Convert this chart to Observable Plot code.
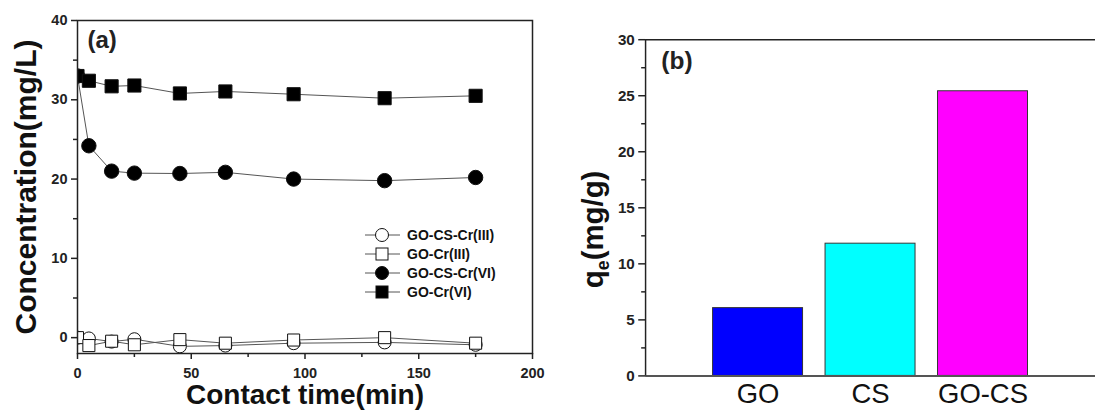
<!DOCTYPE html>
<html><head><meta charset="utf-8">
<script src="https://cdn.jsdelivr.net/npm/d3@7"></script>
<script src="https://cdn.jsdelivr.net/npm/@observablehq/plot@0.6"></script>
<style>
html,body{margin:0;padding:0;background:#fff;overflow:hidden;width:1095px;height:412px;}
#wrap{position:relative;width:1095px;height:412px;overflow:hidden;background:#fff;}
#a{position:absolute;left:0;top:0;}
#b{position:absolute;left:550px;top:0;}
#legend{position:absolute;left:360px;top:224px;}
</style></head><body>
<div id="wrap"><div id="a"></div><div id="b"></div><div id="legend"></div></div>
<script>
// ---- Panel (a) data ----
const times = [0, 5, 15, 25, 45, 65, 95, 135, 175];
const goCsCr3 = [0, -0.1, -0.5, -0.2, -1.1, -1.0, -0.7, -0.6, -0.9];
const goCr3   = [0, -1.0, -0.45, -0.9, -0.25, -0.7, -0.3, 0.0, -0.7];
const goCsCr6 = [33, 24.2, 21.0, 20.75, 20.7, 20.85, 20.0, 19.8, 20.2];
const goCr6   = [33, 32.4, 31.7, 31.8, 30.8, 31.05, 30.7, 30.2, 30.5];
const seriesNames = ["GO-CS-Cr(III)", "GO-Cr(III)", "GO-CS-Cr(VI)", "GO-Cr(VI)"];
const seriesSymbols = ["circle", "square", "circle", "square"];
const seriesFills = ["white", "white", "black", "black"];
const xTicks = [0, 50, 100, 150, 200];
const xMinor = [25, 75, 125, 175];
const yTicks = [0, 10, 20, 30, 40];
const yMinor = [5, 15, 25, 35];

// ---- Panel (b) data ----
const materials = ["GO", "CS", "GO-CS"];
const qe = [6.05, 11.8, 25.4];
const barColors = ["#0000ff", "#00ffff", "#ff00ff"];
const qTicks = [0, 5, 10, 15, 20, 25, 30];
const qMinor = [2.5, 7.5, 12.5, 17.5, 22.5, 27.5];

const FONT = '"Liberation Sans", Arial, Helvetica, sans-serif';
const INK = "#222";

const allSeries = [goCsCr3, goCr3, goCsCr6, goCr6];
const rows = [];
allSeries.forEach((vals, k) => vals.forEach((v, i) => rows.push({t: times[i], c: v, s: seriesNames[k], k})));
const dotR = {circle: [6.5, 7.2], square: [6.8, 7.4]};

const dotMarks = seriesNames.map((name, k) =>
  Plot.dot(rows.filter(d => d.k === k), {
    x: "t", y: "c", symbol: seriesSymbols[k],
    r: dotR[seriesSymbols[k]][seriesFills[k] === "black" ? 1 : 0],
    fill: seriesFills[k], stroke: "#111", strokeWidth: 1, clip: true
  })
);

const plotA = Plot.plot({
  width: 550, height: 412,
  marginLeft: 77, marginRight: 18, marginTop: 20, marginBottom: 59,
  style: {fontFamily: FONT, background: "white", overflow: "visible"},
  x: {domain: [0, 200]},
  y: {domain: [-2, 40]},
  marks: [
    Plot.axisX({ticks: xTicks, tickSize: 6, tickPadding: 8, fontSize: 14.5, fontWeight: "bold", label: null, color: INK, strokeWidth: 1.5}),
    Plot.axisX({ticks: xMinor, tickSize: 4, tickFormat: () => "", label: null, color: INK, strokeWidth: 1.5}),
    Plot.axisY({ticks: yTicks, tickSize: 6, tickPadding: 4, fontSize: 14.5, fontWeight: "bold", label: null, color: INK, strokeWidth: 1.5}),
    Plot.axisY({ticks: yMinor, tickSize: 4, tickFormat: () => "", label: null, color: INK, strokeWidth: 1.5}),
    Plot.line(rows, {x: "t", y: "c", z: "s", stroke: "#555", strokeWidth: 1, clip: true}),
    ...dotMarks,
    Plot.frame({stroke: INK, strokeWidth: 1.5}),
    Plot.text(["(a)"], {frameAnchor: "top-left", textAnchor: "start", lineAnchor: "top", dx: 10, dy: 10, fontSize: 24, fontWeight: "bold", fill: INK}),
    Plot.text(["Contact time(min)"], {frameAnchor: "bottom", textAnchor: "middle", lineAnchor: "middle", dy: 42, fontSize: 28, fontWeight: "bold", fill: "#111"}),
    Plot.text(["Concentration(mg/L)"], {frameAnchor: "left", textAnchor: "middle", lineAnchor: "middle", rotate: -90, dx: -51.6, fontSize: 30, fontWeight: "bold", fill: "#111"})
  ]
});
document.getElementById("a").append(plotA);

// Legend for panel (a)
(function() {
  const lg = d3.select("#legend").append("svg").attr("width", 180).attr("height", 84)
    .style("font-family", FONT);
  seriesNames.forEach((name, k) => {
    const y = 11 + k * 19;
    const g = lg.append("g");
    g.append("line").attr("x1", 5).attr("x2", 40).attr("y1", y).attr("y2", y).attr("stroke", "#555").attr("stroke-width", 1);
    if (seriesSymbols[k] === "circle") {
      g.append("circle").attr("cx", 22).attr("cy", y).attr("r", 6.5).attr("fill", seriesFills[k]).attr("stroke", "#111");
    } else {
      g.append("rect").attr("x", 22 - 6).attr("y", y - 6).attr("width", 12).attr("height", 12).attr("fill", seriesFills[k]).attr("stroke", "#111");
    }
    g.append("text").attr("x", 47).attr("y", y).attr("dy", "0.35em").attr("font-size", 14).attr("font-weight", "bold").attr("fill", "#111").text(name);
  });
})();

// ---- Panel (b) ----
const barRows = materials.map((m, i) => ({m, pos: i + 1, q: qe[i], color: barColors[i]}));
const plotB = Plot.plot({
  width: 556, height: 412,
  marginLeft: 97, marginRight: 0, marginTop: 40, marginBottom: 29,
  style: {fontFamily: FONT, background: "white", overflow: "visible"},
  x: {domain: [0, 4]},
  y: {domain: [0, 30]},
  color: {type: "identity"},
  marks: [
    Plot.rectY(barRows, {x1: d => d.pos - 0.4, x2: d => d.pos + 0.4, y1: 0, y2: "q", fill: "color", stroke: "#333", strokeWidth: 1}),
    Plot.axisY({ticks: qTicks, tickSize: 7, tickPadding: 4, fontSize: 15.5, fontWeight: "bold", label: null, color: INK, strokeWidth: 1.5}),
    Plot.axisY({ticks: qMinor, tickSize: 4, tickFormat: () => "", label: null, color: INK, strokeWidth: 1.5}),
    Plot.axisX({ticks: [1, 2, 3], tickFormat: i => materials[i - 1], tickSize: 0, tickPadding: 8, fontSize: 28, fontWeight: "normal", label: null, color: "#111"}),
    Plot.ruleY([0], {stroke: "#555", strokeWidth: 2}),
    Plot.ruleY([30], {stroke: INK, strokeWidth: 1.5}),
    Plot.ruleX([0], {stroke: INK, strokeWidth: 1.5}),
    Plot.text(["(b)"], {frameAnchor: "top-left", textAnchor: "start", lineAnchor: "top", dx: 16, dy: 12, fontSize: 25, fontWeight: "bold", fill: INK})
  ]
});
document.getElementById("b").append(plotB);

// y label with subscript for panel (b)
(function() {
  const svg = d3.select(plotB);
  const t = svg.append("text")
    .attr("transform", "translate(44,234) rotate(-90)")
    .attr("text-anchor", "middle")
    .attr("dy", "0.32em")
    .attr("font-family", FONT).attr("font-size", 30).attr("font-weight", "bold").attr("fill", "#111");
  t.append("tspan").text("q");
  t.append("tspan").attr("font-size", 18).attr("dy", 7).text("e");
  t.append("tspan").attr("dy", -7).text("(mg/g)");
})();
</script>
</body></html>
